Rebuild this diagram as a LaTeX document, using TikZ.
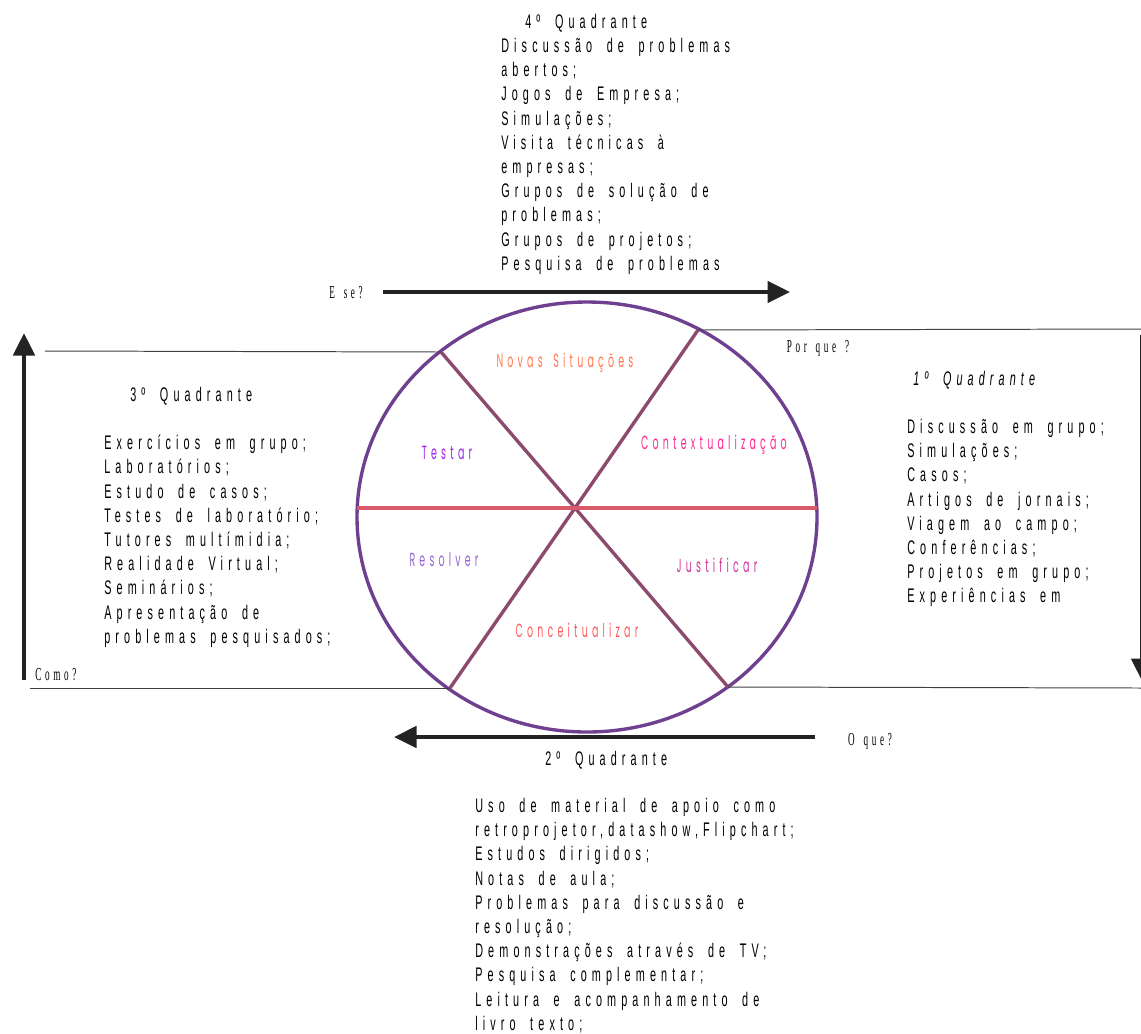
\documentclass[tikz,border=0pt]{standalone}
\usepackage{fontspec}
\usetikzlibrary{arrows.meta, positioning}

\newfontfamily\quadfont[FakeStretch=0.55,LetterSpace=26,WordSpace=1.8]{Liberation Sans}
\newfontfamily\askfont[FakeStretch=0.5,LetterSpace=20,WordSpace=1.5]{Liberation Serif}
\newfontfamily\segfont[FakeStretch=0.5,LetterSpace=22,WordSpace=1.6]{Poppins}

\definecolor{rimpurple}{RGB}{112,64,144}
\definecolor{spokemauve}{RGB}{140,75,110}
\definecolor{diamred}{RGB}{217,90,106}
\definecolor{arrowgray}{RGB}{35,35,35}
\definecolor{novascol}{RGB}{255,120,80}
\definecolor{testarcol}{RGB}{160,32,240}
\definecolor{contexcol}{RGB}{255,40,150}
\definecolor{resolvcol}{RGB}{150,100,210}
\definecolor{justcol}{RGB}{210,50,160}
\definecolor{conccol}{RGB}{255,90,90}

\begin{document}
\begin{tikzpicture}[
  x=0.025cm, y=-0.025cm,
  quad/.style={anchor=north west, inner sep=0pt, align=left,
    font=\quadfont\fontsize{14}{17.2}\selectfont},
  ask/.style={inner sep=0pt, font=\askfont\fontsize{13}{14}\selectfont},
  seg/.style={inner sep=0pt, font=\segfont\fontsize{13.5}{14}\selectfont},
  rim/.style={line width=2.4pt, draw=rimpurple},
  spoke/.style={line width=2.4pt, draw=spokemauve},
  rule/.style={line width=0.7pt, draw=black!75},
  flow/.style={line width=3pt, draw=arrowgray, -{Triangle[length=16pt,width=15pt]}}]

  \useasboundingbox (0,0) rectangle (1141,1033);

  % the wheel
  \draw[rim] (587,517) ellipse [x radius=230, y radius=215];
  \coordinate (hub) at (575,508);
  \coordinate (nw) at (441,352); \coordinate (se) at (728,687);
  \coordinate (ne) at (698,330); \coordinate (sw) at (450,688);
  \coordinate (w) at (357,508);  \coordinate (e) at (817,508);
  \draw[spoke] (nw) -- (hub) -- (se);
  \draw[spoke] (ne) -- (hub) -- (sw);
  \draw[line width=2.4pt, diamred] (w) -- (e);

  \node[seg, novascol] (novas) at (565,363) {Novas Situações};
  \node[seg, testarcol] (testar) at (447,453) {Testar};
  \node[seg, contexcol] (contex) at (714,445) {Contextualização};
  \node[seg, resolvcol] (resolver) at (444,560) {Resolver};
  \node[seg, justcol] (justificar) at (717,565) {Justificar};
  \node[seg, conccol] (conceit) at (577,630) {Conceitualizar};

  % frame lines
  \coordinate (tl) at (45,351);   \coordinate (tr) at (1141,329);
  \coordinate (bl) at (30,688);   \coordinate (br) at (1141,688);
  \draw[rule] (tl) -- (nw);
  \draw[rule] (ne) -- (tr);
  \draw[rule] (bl) -- (sw);
  \draw[rule] (se) -- (br);

  % the four questions
  \coordinate (esA) at (383,292);  \coordinate (esB) at (790,292);
  \coordinate (oqA) at (815,737);  \coordinate (oqB) at (394,737);
  \coordinate (coA) at (24,680);   \coordinate (coB) at (24,333);
  \coordinate (pqA) at (1142,335); \coordinate (pqB) at (1142,681);
  \draw[flow] (esA) -- (esB);
  \draw[flow] (oqA) -- (oqB);
  \draw[flow] (coA) -- (coB);
  \draw[flow] (pqA) -- (pqB);

  \node[ask] (ese) at (346,293) {E se?};
  \node[ask] (porque) at (818,348) {Por que ?};
  \node[ask] (como) at (56,675) {Como?};
  \node[ask] (oque) at (870,741) {O que?};

  % quadrants
  \node[quad] (q4t) at (525,14) {4º Quadrante};
  \node[quad] (q4) at (501,38) {Discussão de problemas\\abertos;\\Jogos de Empresa;\\Simulações;\\Visita técnicas  à\\empresas;\\Grupos de solução de\\problemas;\\Grupos de projetos;\\Pesquisa de problemas};

  \node[quad] (q3t) at (130,387) {3º Quadrante};
  \node[quad] (q3) at (104,435) {Exercícios em grupo;\\Laboratórios;\\Estudo de casos;\\Testes de laboratório;\\Tutores multímidia;\\Realidade Virtual;\\Seminários;\\Apresentação de\\problemas pesquisados;};

  \node[quad, font=\quadfont\itshape\fontsize{14}{17.2}\selectfont] (q1t) at (913,371) {1º Quadrante};
  \node[quad] (q1) at (907,419) {Discussão em grupo;\\Simulações;\\Casos;\\Artigos de jornais;\\Viagem ao campo;\\Conferências;\\Projetos em grupo;\\Experiências em};

  \node[quad] (q2t) at (545,751) {2º Quadrante};
  \node[quad] (q2) at (475,798) {Uso de material de apoio como\\retroprojetor,datashow,Flipchart;\\Estudos dirigidos;\\Notas de aula;\\Problemas para discussão e\\resolução;\\Demonstrações através de TV;\\Pesquisa complementar;\\Leitura e acompanhamento de\\livro texto;};
\end{tikzpicture}
\end{document}
